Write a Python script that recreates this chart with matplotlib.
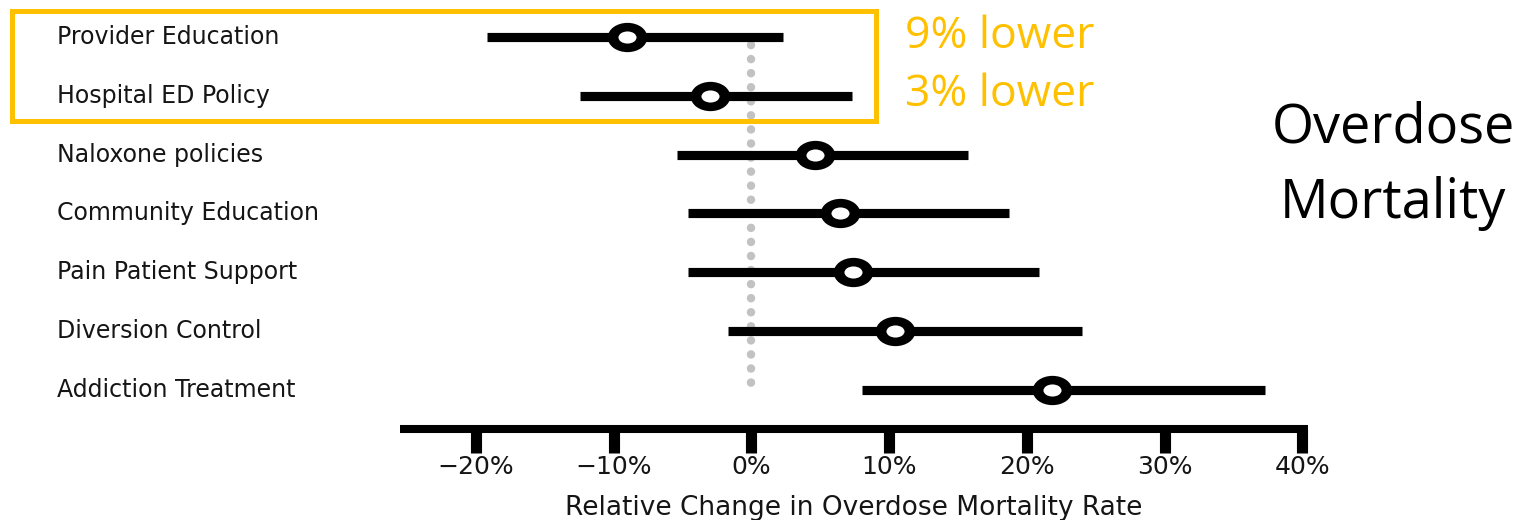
import matplotlib
matplotlib.use("Agg")
import matplotlib.pyplot as plt
from matplotlib.patches import Rectangle
from matplotlib.path import Path
from matplotlib.markers import MarkerStyle
from matplotlib.transforms import Affine2D, blended_transform_factory

# Policy categories (top to bottom) and estimated relative change (%) with 95% CI
categories = [
    "Provider Education",
    "Hospital ED Policy",
    "Naloxone policies",
    "Community Education",
    "Pain Patient Support",
    "Diversion Control",
    "Addiction Treatment",
]
estimate = [-9.0, -3.0, 4.6, 6.4, 7.4, 10.4, 21.8]
ci_low = [-19.2, -12.4, -5.4, -4.6, -4.6, -1.7, 8.0]
ci_high = [2.3, 7.3, 15.7, 18.7, 20.9, 24.0, 37.3]

xticks = [-20, -10, 0, 10, 20, 30, 40]
xtick_labels = ["\u221220%", "\u221210%", "0%", "10%", "20%", "30%", "40%"]
highlight_notes = ["9% lower", "3% lower"]
outcome_title = ["Overdose", "Mortality"]
xlabel = "Relative Change in Overdose Mortality Rate"

W, H = 1519, 520
fig = plt.figure(figsize=(W / 100, H / 100), dpi=100)
fig.patch.set_facecolor("white")

ax = fig.add_axes([400 / W, 91 / H, 908 / W, 429 / H])
ax.set_xlim(-25.5, 40.4)
ax.set_ylim(6.667, -0.629)

rows = list(range(len(categories)))

# reference line at zero
ax.plot([0, 0], [0.14, 6.0], color="#c2c2c2", lw=6.1,
        linestyle=(0, (0.01, 1.65)), dash_capstyle="round", zorder=1)

# confidence intervals
ax.hlines(rows, ci_low, ci_high, color="black", lw=6.6, capstyle="butt", zorder=2)

# point estimates: wide black ring with a white centre
outer = MarkerStyle(Affine2D().scale(1.0, 0.74).transform_path(Path.unit_circle()))
inner = MarkerStyle(Affine2D().scale(1.0, 0.67).transform_path(Path.unit_circle()))
ax.plot(estimate, rows, linestyle="none", marker=outer, ms=28.5,
        mfc="black", mec="none", zorder=3)
ax.plot(estimate, rows, linestyle="none", marker=inner, ms=13,
        mfc="white", mec="none", zorder=4)

# category labels on the left
trans = blended_transform_factory(fig.transFigure, ax.transData)
for r, name in zip(rows, categories):
    ax.text(57 / W, r, name, transform=trans, ha="left", va="center",
            fontsize=17, family="DejaVu Sans", color="#151515")

# axis styling
for s in ["top", "left", "right"]:
    ax.spines[s].set_visible(False)
ax.spines["bottom"].set_linewidth(5.8)
ax.spines["bottom"].set_capstyle("butt")
ax.set_yticks([])
ax.set_xticks(xticks)
ax.set_xticklabels(xtick_labels, family="DejaVu Sans", fontsize=18)
ax.tick_params(axis="x", direction="out", length=17, width=8.0, pad=2,
               labelcolor="#151515")
ax.set_xlabel(xlabel, family="DejaVu Sans", fontsize=19, labelpad=11,
              color="#151515")
ax.patch.set_alpha(0)

# highlight box around the first two rows
fig.add_artist(Rectangle((12 / W, 1 - 121 / H), 864 / W, 110 / H,
                         transform=fig.transFigure, fill=False,
                         ec="#FFC000", lw=3.6))

for text, yp in zip(highlight_notes, [37, 95]):
    fig.text(905 / W, 1 - yp / H, text, ha="left", va="center",
             fontsize=32, family="Open Sans", color="#FFC000")

fig.text(1393 / W, 1 - 128 / H, outcome_title[0], ha="center", va="center",
         fontsize=39, family="Open Sans", color="black")
fig.text(1393 / W, 1 - 204 / H, outcome_title[1], ha="center", va="center",
         fontsize=39, family="Open Sans", color="black")

fig.savefig("out.png", dpi=100, facecolor="white")
